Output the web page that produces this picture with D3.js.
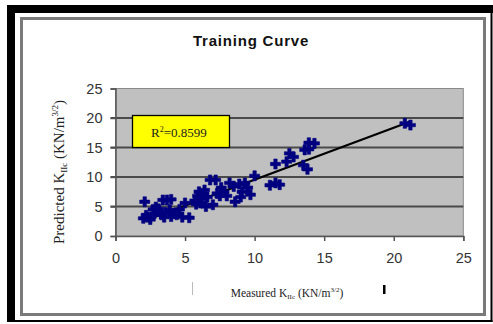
<!DOCTYPE html>
<html><head><meta charset="utf-8">
<script src="https://cdn.jsdelivr.net/npm/d3@7"></script>
<style>html,body{margin:0;padding:0;background:#fff;}svg{display:block;}</style>
</head><body>
<svg id="c" width="493" height="324"></svg>
<script>
const measured = [2.1,2.0,2.3,2.5,2.2,2.7,2.9,3.0,2.8,3.1,3.3,3.5,3.6,3.4,3.7,4.0,4.0,4.2,3.9,4.4,4.8,5.3,5.0,4.6,
  5.7,5.9,6.0,6.2,6.4,6.1,6.5,5.8,6.3,6.6,6.8,7.2,7.0,7.3,7.6,7.5,7.8,8.2,8.0,8.5,8.6,8.9,9.1,9.3,9.5,9.7,9.0,
  10.0,11.1,11.5,11.8,11.5,12.3,12.5,12.8,13.5,13.8,13.6,13.9,14.3,13.9,20.8,21.2];
const predicted = [5.8,3.0,3.2,2.8,3.5,4.5,4.9,4.2,3.8,4.6,3.6,3.2,4.0,6.1,6.1,6.2,3.3,3.8,4.4,3.6,3.2,3.1,5.6,4.5,
  6.0,6.8,7.5,6.3,7.8,5.6,5.0,5.4,7.0,6.6,9.5,9.5,5.3,7.2,8.2,6.8,7.5,9.0,6.8,8.4,5.8,8.8,7.5,9.0,8.2,7.0,6.6,
  10.2,8.6,9.0,8.7,12.2,12.6,14.0,13.4,12.0,11.3,14.6,15.8,15.7,14.7,19.1,18.8];
const xTicks = [0,5,10,15,20,25];
const yTicks = [0,5,10,15,20,25];
const trendSlope = 0.88, trendIntercept = 0.74;
const rSquared = "0.8599";
const title = "Training Curve";

const svg = d3.select("#c");
// outer black frame
svg.append("rect").attr("x",7).attr("y",5).attr("width",486).attr("height",8).attr("fill","#000");
svg.append("rect").attr("x",7).attr("y",5).attr("width",8).attr("height",317).attr("fill","#000");
svg.append("rect").attr("x",490.5).attr("y",5).attr("width",2).attr("height",317).attr("fill","#000");
svg.append("rect").attr("x",7).attr("y",320).attr("width",485.5).attr("height",2).attr("fill","#000");
// gray chart frame
svg.append("rect").attr("x",21.5).attr("y",18.5).attr("width",463).attr("height",296)
  .attr("fill","#fff").attr("stroke","#7a7a7a").attr("stroke-width",3);

const x = d3.scaleLinear().domain([0,25]).range([115.5,463.3]);
const y = d3.scaleLinear().domain([0,25]).range([236,88.5]);

svg.append("text").attr("x",251).attr("y",46).attr("text-anchor","middle")
  .attr("font-family","Liberation Sans, Arial, sans-serif").attr("font-weight","bold")
  .attr("font-size",15).attr("letter-spacing",0.8).attr("fill","#111").text(title);

// plot area
svg.append("rect").attr("x",x(0)).attr("y",y(25)).attr("width",x(25)-x(0)).attr("height",y(0)-y(25))
  .attr("fill","#c0c0c0").attr("stroke","#8a8a8a").attr("stroke-width",1);
// gridlines
svg.append("g").selectAll("line").data(yTicks.filter(d=>d>0&&d<25)).join("line")
  .attr("x1",x(0)-5).attr("x2",x(25)).attr("y1",d=>y(d)).attr("y2",d=>y(d))
  .attr("stroke","#4a4a4a").attr("stroke-width",2);

// axes
const yAxis = d3.axisLeft(y).tickValues(yTicks).tickSize(5).tickPadding(8);
const gy = svg.append("g").attr("transform",`translate(${x(0)},0)`).call(yAxis);
const xAxis = d3.axisBottom(x).tickValues(xTicks).tickSize(5).tickPadding(12);
const gx = svg.append("g").attr("transform",`translate(0,${y(0)})`).call(xAxis);
[gx,gy].forEach(g=>{
  g.select(".domain").attr("stroke","#555").attr("stroke-width",1.5);
  g.selectAll(".tick line").attr("stroke","#555").attr("stroke-width",1.5);
  g.selectAll(".tick text").attr("font-family","Liberation Sans, Arial, sans-serif")
    .attr("font-size",14.5).attr("fill","#333");
});

// trendline
const xe = d3.extent(measured);
svg.append("line").attr("x1",x(xe[0])).attr("y1",y(trendSlope*xe[0]+trendIntercept))
  .attr("x2",x(xe[1])).attr("y2",y(trendSlope*xe[1]+trendIntercept))
  .attr("stroke","#000").attr("stroke-width",2.2);

// points
const sym = d3.symbol().type(d3.symbolCross).size(56);
svg.append("g").selectAll("path").data(measured.map((m,i)=>[m,predicted[i]])).join("path")
  .attr("d",sym).attr("transform",d=>`translate(${x(d[0])},${y(d[1])})`)
  .attr("fill","#000080").attr("stroke","#000080").attr("stroke-width",0.6).attr("stroke-linejoin","round");

// R2 box
svg.append("rect").attr("x",132.5).attr("y",115.5).attr("width",97).attr("height",32)
  .attr("fill","#ffff00").attr("stroke","#000").attr("stroke-width",1.3);
const rt = svg.append("text").attr("x",179).attr("y",137).attr("text-anchor","middle")
  .attr("font-family","Liberation Serif, Times New Roman, serif").attr("font-size",13).attr("fill","#222");
rt.append("tspan").text("R");
rt.append("tspan").attr("font-size",8).attr("dy",-5).text("2");
rt.append("tspan").attr("dy",5).text("="+rSquared);

// y label
const yl = svg.append("text").attr("transform","translate(64,172) rotate(-90)").attr("text-anchor","middle")
  .attr("font-family","Liberation Serif, Times New Roman, serif").attr("font-size",15).attr("fill","#222");
yl.append("tspan").text("Predicted K");
yl.append("tspan").attr("font-size",9).attr("dy",3).text("IIc");
yl.append("tspan").attr("dy",-3).text(" (KN/m");
yl.append("tspan").attr("font-size",9).attr("dy",-6).text("3/2");
yl.append("tspan").attr("dy",6).text(")");

// x label
const xl = svg.append("text").attr("x",287).attr("y",297).attr("text-anchor","middle")
  .attr("font-family","Liberation Serif, Times New Roman, serif").attr("font-size",11.5).attr("fill","#222");
xl.append("tspan").text("Measured K");
xl.append("tspan").attr("font-size",7).attr("dy",2).text("IIc");
xl.append("tspan").attr("dy",-2).text(" (KN/m");
xl.append("tspan").attr("font-size",7).attr("dy",-5).text("3/2");
xl.append("tspan").attr("dy",5).text(")");

// small artifacts
svg.append("line").attr("x1",192.5).attr("x2",192.5).attr("y1",282).attr("y2",295).attr("stroke","#bbb").attr("stroke-width",1);
svg.append("rect").attr("x",383).attr("y",285).attr("width",2.5).attr("height",9).attr("fill","#000");
</script>
</body></html>
